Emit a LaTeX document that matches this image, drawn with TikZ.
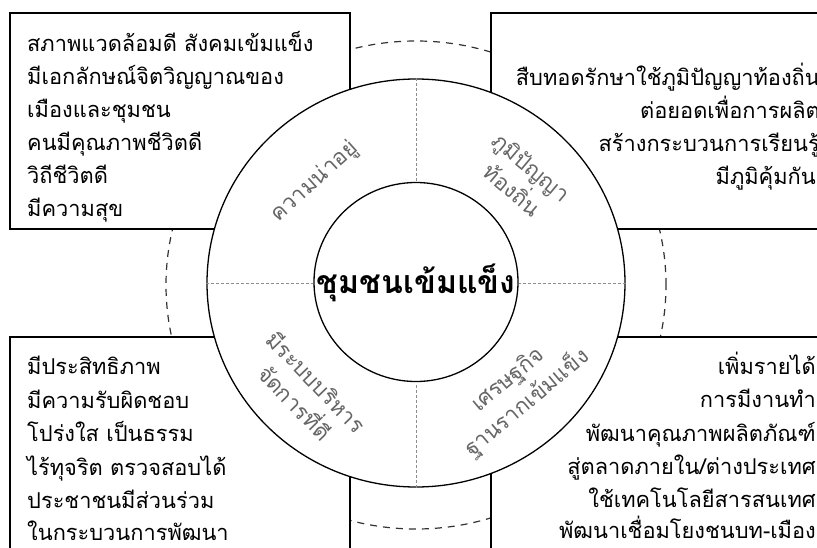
\documentclass[tikz,border=0pt]{standalone}
\usepackage{fontspec}
\usetikzlibrary{shapes.geometric}
\newfontfamily\thai[Script=Thai]{Loma}
\begin{document}
\begin{tikzpicture}[x=1pt,y=-1pt,
  boxline/.style={draw=black, line width=1.3pt, fill=white},
  boxtext/.style={font=\thai\fontsize{21.8}{33}\selectfont, inner sep=0pt},
  ringlabel/.style={font=\thai\fontsize{22}{30}\selectfont, text=black!60, align=center, inner sep=0pt},
  ringline/.style={draw=black, line width=1.3pt, fill=white, ellipse, inner sep=0pt},
  dashring/.style={draw=black!80, line width=1.2pt, dash pattern=on 7pt off 6pt},
  crossline/.style={draw=black!45, line width=0.7pt, dash pattern=on 3pt off 2pt}
]
\useasboundingbox (0,0) rectangle (817,548);
% dashed outer ring
\node[ellipse, dashring, minimum width=500pt, minimum height=488pt, inner sep=0pt] (dring) at (416,285) {};
% boxes
\draw[boxline] (10,13) rectangle (350,229);
\draw[boxline] (491,13) rectangle (835,229);
\draw[boxline] (10,337) rectangle (350,560);
\draw[boxline] (491,337) rectangle (835,560);
% outer circle
\node[ringline, minimum width=418pt, minimum height=408pt] (outer) at (416,283) {};
\node[ringline, draw=none, fill=none, minimum width=204pt, minimum height=199pt] (innerref) at (416,283) {};
\draw[crossline] (outer.west) -- (innerref.west);
\draw[crossline] (outer.east) -- (innerref.east);
\draw[crossline] (outer.north) -- (innerref.north);
\draw[crossline] (outer.south) -- (innerref.south);
\node[ringline, minimum width=204pt, minimum height=199pt] (inner) at (416,282) {};
\node[font=\thai\bfseries\fontsize{32}{40}\selectfont, inner sep=0pt] (core) at (416,283) {ชุมชนเข้มแข็ง};
% ring labels
\node[ringlabel, rotate=42] (lab1) at (315,182) {ความน่าอยู่};
\node[ringlabel, rotate=-40] (lab2) at (522,178) {ภูมิปัญญา\\ท้องถิ่น};
\node[ringlabel, rotate=-46] (lab3) at (306,392) {มีระบบบริหาร\\จัดการที่ดี};
\node[ringlabel, rotate=40] (lab4) at (518,392) {เศรษฐกิจ\\ฐานรากเข้มแข็ง};
% top-left text
\node[boxtext, anchor=base west] (tl1) at (27,52) {สภาพแวดล้อมดี สังคมเข้มแข็ง};
\node[boxtext, anchor=base west] (tl2) at (27,85) {มีเอกลักษณ์จิตวิญญาณของ};
\node[boxtext, anchor=base west] (tl3) at (27,118) {เมืองและชุมชน};
\node[boxtext, anchor=base west] (tl4) at (27,151) {คนมีคุณภาพชีวิตดี};
\node[boxtext, anchor=base west] (tl5) at (27,184) {วิถีชีวิตดี};
\node[boxtext, anchor=base west] (tl6) at (27,217) {มีความสุข};
% top-right text
\node[boxtext, anchor=base east] (tr1) at (820,86) {สืบทอดรักษาใช้ภูมิปัญญาท้องถิ่น};
\node[boxtext, anchor=base east] (tr2) at (820,119) {ต่อยอดเพื่อการผลิต};
\node[boxtext, anchor=base east] (tr3) at (820,152) {สร้างกระบวนการเรียนรู้};
\node[boxtext, anchor=base east] (tr4) at (816,185) {มีภูมิคุ้มกัน};
% bottom-left text
\node[boxtext, anchor=base west] (bl1) at (27,374) {มีประสิทธิภาพ};
\node[boxtext, anchor=base west] (bl2) at (27,408) {มีความรับผิดชอบ};
\node[boxtext, anchor=base west] (bl3) at (27,441) {โปร่งใส เป็นธรรม};
\node[boxtext, anchor=base west] (bl4) at (27,475) {ไร้ทุจริต ตรวจสอบได้};
\node[boxtext, anchor=base west] (bl5) at (27,508) {ประชาชนมีส่วนร่วม};
\node[boxtext, anchor=base west] (bl6) at (27,540) {ในกระบวนการพัฒนา};
% bottom-right text
\node[boxtext, anchor=base east] (br1) at (816,374) {เพิ่มรายได้};
\node[boxtext, anchor=base east] (br2) at (816,407) {การมีงานทำ};
\node[boxtext, anchor=base east] (br3) at (816,441) {พัฒนาคุณภาพผลิตภัณฑ์};
\node[boxtext, anchor=base east] (br4) at (816,474) {สู่ตลาดภายใน/ต่างประเทศ};
\node[boxtext, anchor=base east] (br5) at (816,507) {ใช้เทคโนโลยีสารสนเทศ};
\node[boxtext, anchor=base east] (br6) at (816,538) {พัฒนาเชื่อมโยงชนบท-เมือง};
\end{tikzpicture}
\end{document}
